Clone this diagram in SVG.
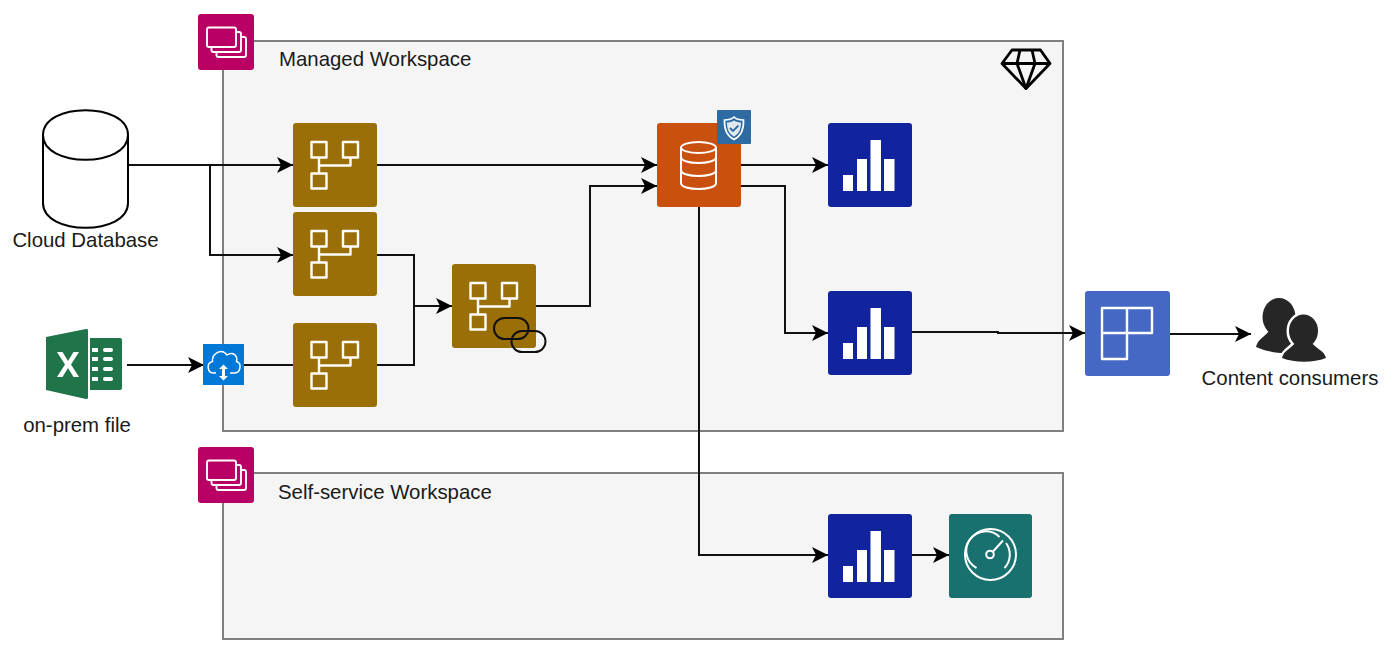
<svg xmlns="http://www.w3.org/2000/svg" width="1396" height="660" viewBox="0 0 1396 660">
<style>
text{font-family:"Liberation Sans",Arial,sans-serif;font-size:20.400px;fill:#1a1a1a}
.ws{fill:#f5f5f5;stroke:#808080;stroke-width:2}
.c{fill:none;stroke:#111;stroke-width:2}
.i{fill:none;stroke:#fff;stroke-width:2.400;stroke-linejoin:round}
.ith{fill:none;stroke:#fff;stroke-width:2}
.tile{stroke:none}
</style>
<defs>
<marker id="a" markerUnits="userSpaceOnUse" markerWidth="17" markerHeight="18" refX="16" refY="9" orient="auto"><path d="M0 1 L16 9 L0 17 L4 9Z" fill="#000"/></marker>
<g id="flow">
<rect class="tile" width="84" height="84" rx="3" fill="#9a6f08"/>
<rect class="i" x="18.500" y="19" width="15" height="15.500"/>
<rect class="i" x="50" y="19" width="15" height="15.500"/>
<rect class="i" x="18.500" y="50.500" width="15" height="15"/>
<path class="i" d="M26 34.500V50.500M26 42.500H57.500V34.500"/>
</g>
<g id="chart">
<rect class="tile" width="84" height="84" rx="3" fill="#12239e"/>
<path fill="#fff" d="M15 52h10v16h-10zM29 36h10v32h-10zM42.500 17h10.500v51h-10.500zM56 36h10.500v32h-10.500z"/>
</g>
<g id="wsicon">
<rect width="56" height="56" rx="3" fill="#b90064"/>
<g class="ith" style="stroke-width:1.900">
<rect x="9" y="13.500" width="29" height="19.500" rx="2"/>
<path d="M13.500 33V36a2 2 0 0 0 2 2H41a2 2 0 0 0 2-2V20a2 2 0 0 0-2-2H38"/>
<path d="M18.500 38V41a2 2 0 0 0 2 2H46a2 2 0 0 0 2-2V25a2 2 0 0 0-2-2H43"/>
</g>
</g>
</defs>

<g id="managed-workspace"><rect class="ws" x="223" y="41" width="840" height="390"/><text x="279" y="65.500">Managed Workspace</text></g>
<g id="self-service-workspace"><rect class="ws" x="223" y="473" width="840" height="166"/><text x="278" y="498.500">Self-service Workspace</text></g>

<g id="connectors">
<path class="c" marker-end="url(#a)" d="M129 165H293"/>
<path class="c" marker-end="url(#a)" d="M210 165V255H293"/>
<path class="c" marker-end="url(#a)" d="M377 165H657"/>
<path class="c" d="M377 255H414V365H377"/>
<path class="c" marker-end="url(#a)" d="M414 306H452"/>
<path class="c" marker-end="url(#a)" d="M536 306H590V186H657"/>
<path class="c" marker-end="url(#a)" d="M127 365H204"/>
<path class="c" d="M244 365H293"/>
<path class="c" marker-end="url(#a)" d="M741 165H828"/>
<path class="c" marker-end="url(#a)" d="M741 186H785V333H828"/>
<path class="c" marker-end="url(#a)" d="M699 207V555H828"/>
<path class="c" marker-end="url(#a)" d="M912 332H998V333H1085"/>
<path class="c" marker-end="url(#a)" d="M1170 334H1251"/>
<path class="c" marker-end="url(#a)" d="M912 555H949"/>
</g>

<g id="ws-icon-managed"><use href="#wsicon" x="198" y="14"/></g>
<g id="ws-icon-self"><use href="#wsicon" x="198" y="447"/></g>

<g id="diamond" fill="none" stroke="#000" stroke-width="2.800" stroke-linejoin="round">
<path d="M1012 50H1040.500L1050 63.500L1026 88.500L1002 63.500Z"/>
<path d="M1002 63.500H1050M1020 50L1017 63.500L1026 88.500L1035 63.500L1032 50"/>
</g>

<g id="cloud-database">
<path fill="#fff" stroke="#000" stroke-width="2" d="M43 135C43 102 128 102 128 135V203C128 236 43 236 43 203Z"/>
<path fill="none" stroke="#000" stroke-width="2" d="M43 135C43 168 128 168 128 135"/>
<text x="85.500" y="246.500" text-anchor="middle">Cloud Database</text>
</g>

<g id="excel-file">
<path fill="#20744a" d="M90 338H120a2 2 0 0 1 2 2V388a2 2 0 0 1-2 2H90Z"/>
<path fill="#fff" d="M92 348h6v4h-6zM105 348h6a2 2 0 0 1 0 4h-6a2 2 0 0 1 0-4zM92 357h6v4h-6zM105 357h6a2 2 0 0 1 0 4h-6a2 2 0 0 1 0-4zM92 367h6v4h-6zM105 367h6a2 2 0 0 1 0 4h-6a2 2 0 0 1 0-4zM92 377h6v4h-6zM105 377h6a2 2 0 0 1 0 4h-6a2 2 0 0 1 0-4z"/>
<path fill="#20744a" d="M46 337L86 329a1.500 1.500 0 0 1 2 1.500V397.500a1.500 1.500 0 0 1-2 1.500L46 390Z"/>
<path fill="#fff" d="M57 352H62.500L68 361L73.500 352H79L71 364.500L79 377H73.500L68 368L62.500 377H57L65 364.500Z"/>
<text x="77" y="431.500" text-anchor="middle">on-prem file</text>
</g>

<g id="gateway">
<rect x="203" y="344" width="41" height="41" fill="#0078d7"/>
<path class="ith" style="stroke-width:1.500" d="M216 373H214C207 373 206 363 212.500 361.500C212 353 222 348 227 355C233 351 238 356 236.500 361.500C242 363 241 373 234 373H230"/>
<path fill="#fff" d="M223.500 364.500l-4.500 4.500h3v7h-3l4.500 4.500 4.500-4.500h-3v-7h3z"/>
</g>

<g id="dataflow-1"><use href="#flow" x="293" y="123"/></g>
<g id="dataflow-2"><use href="#flow" x="293" y="212"/></g>
<g id="dataflow-3"><use href="#flow" x="293" y="323"/></g>
<g id="dataflow-linked">
<use href="#flow" x="452" y="264"/>
<rect x="494" y="318" width="34.500" height="21" rx="10.500" fill="none" stroke="#111" stroke-width="2"/>
<rect x="511.500" y="331" width="34" height="21" rx="10.500" fill="none" stroke="#111" stroke-width="2"/>
</g>

<g id="dataset">
<rect x="657" y="123" width="84" height="84" rx="3" fill="#ca5010"/>
<g class="ith" style="stroke-width:2">
<ellipse cx="698.500" cy="147.500" rx="17.500" ry="5.500"/>
<path d="M681 147.500V183C681 191 716 191 716 183V147.500M681 157C681 165 716 165 716 157M681 170C681 178 716 178 716 170"/>
</g>
<rect x="717" y="110" width="34" height="34" rx="1" fill="#2f6ba3"/>
<path fill="none" stroke="#fff" stroke-width="1.600" d="M734 117C737 120 741 120 743.500 120C744 130 741 136 734 139.500C727 136 724 130 724.500 120C727 120 731 120 734 117Z"/>
<path fill="#fff" fill-opacity=".85" d="M734 120.500C736 122 739 122.500 741 122.500C741 130 738.500 134 734 136.500C729.500 134 727 130 727 122.500C729 122.500 732 122 734 120.500Z"/>
<path fill="none" stroke="#2f6ba3" stroke-width="1.800" d="M730 128L733 131L738.500 125.500"/>
</g>

<g id="report-1"><use href="#chart" x="828" y="123"/></g>
<g id="report-2"><use href="#chart" x="828" y="291"/></g>
<g id="report-3"><use href="#chart" x="828" y="514"/></g>

<g id="dashboard">
<rect x="949" y="514" width="83" height="84" rx="3" fill="#18706f"/>
<g class="ith" style="stroke-width:2">
<circle cx="990.500" cy="554.500" r="25.500"/>
<path d="M976.500 568A19.500 19.500 0 1 1 999.500 537M1006 543A19.500 19.500 0 0 1 1004.500 568"/>
<circle cx="990" cy="554.500" r="3.800"/>
<path d="M993 551.500L1003 540.500"/>
</g>
</g>

<g id="app">
<rect x="1085" y="291" width="85" height="85" rx="3" fill="#4668c5"/>
<path class="i" d="M1102 308H1152V333H1127V359H1102ZM1102 333H1127V308"/>
</g>

<g id="content-consumers">
<g fill="#262626">
<ellipse cx="1279" cy="317" rx="16.500" ry="19"/>
<path d="M1270 329C1266 337 1258 338 1256 347C1265 351 1275 353 1285 353L1300 335L1287 329Z"/>
</g>
<g fill="#262626" stroke="#fff" stroke-width="5">
<ellipse cx="1303.500" cy="331" rx="14.500" ry="16.500"/>
<path d="M1296 342C1291 349 1284 350 1282 358C1295 363 1313 363 1326 358C1324 350 1316 349 1311 342Z"/>
</g>
<g fill="#262626">
<ellipse cx="1303.500" cy="331" rx="14.500" ry="16.500"/>
<path d="M1296 342C1291 349 1284 350 1282 358C1295 363 1313 363 1326 358C1324 350 1316 349 1311 342Z"/>
</g>
<text x="1290" y="384.500" text-anchor="middle">Content consumers</text>
</g>
</svg>
